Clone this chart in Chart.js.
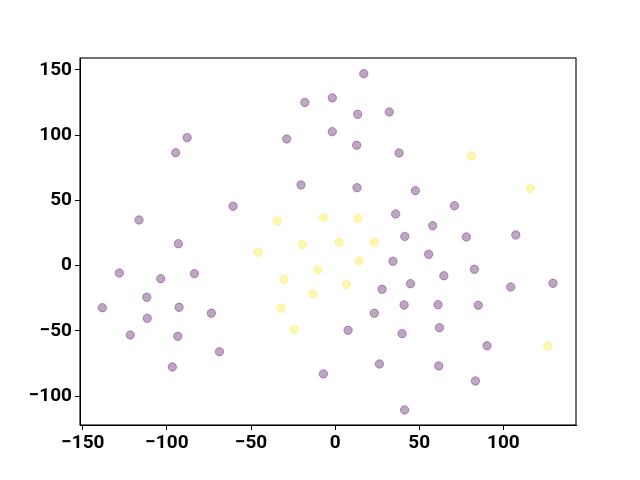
<!DOCTYPE html>
<html lang="en">
<head>
    <meta charset="UTF-8">
    <title>scatter</title>
    <script src="https://cdn.jsdelivr.net/npm/chart.js"></script>
    <style>
        body { margin: 0; background: #fff; }
        #wrap { width: 640px; height: 480px; }
    </style>
</head>
<body>
    <div id="wrap"><canvas id="myChart" width="640" height="480"></canvas></div>
    <script>
        // class 0 (purple) points
        const purpleX = [17, -18, -1.7, 13.4, 32.2, -88, -28.8, -1.7, 12.8, 38, -94.8, -20.3, 13, 47.7, -60.7, 70.9,
            -116.6, 36, 58, -93.2, 41.4, 78, 107.4, 34.4, 55.6, -128.3, -103.7, -83.7, 82.8, 64.6, 27.9, 44.8,
            104.4, 129.5, -112, -138.4, -92.8, -111.7, -73.6, 23.3, 41, 61.2, 85.1, -121.8, -93.6, 7.7,
            39.8, 62, -68.8, 90.3, -96.8, -7, 26.3, 61.6, 83.4, 41.3];
        const purpleY = [147, 125, 128.4, 115.9, 117.7, 98, 97, 102.6, 92.2, 86.3, 86.5, 61.8, 59.7, 57.4, 45.5, 45.9,
            35, 39.6, 30.6, 16.8, 22.4, 22, 23.5, 3.4, 8.7, -5.6, -10, -6.1, -2.8, -7.7, -18.1, -13.8,
            -16.3, -13.5, -24.2, -32.2, -31.9, -40.3, -36.4, -36.4, -30.1, -29.9, -30.3, -53.1, -54.1, -49.5,
            -52.1, -47.5, -65.9, -61.3, -77.6, -82.9, -75.3, -76.8, -88.3, -110.5];
        // class 1 (yellow) points
        const yellowX = [-34.5, -7, 13.6, 81, 116.1, -45.8, -19.7, 2.3, 23.3, 14.2, -10.3, -30.4, -13.1, 6.7, -32.2, -24.4, 126.4];
        const yellowY = [34.2, 36.8, 36.3, 84, 59, 10.3, 16.1, 17.9, 17.9, 3.6, -3.1, -10.4, -21.7, -14.5, -32.4, -49, -61.5];
        const xTicks = [-150, -100, -50, 0, 50, 100];
        const yTicks = [-100, -50, 0, 50, 100, 150];

        const toPts = (xs, ys) => xs.map((x, i) => ({ x: x, y: ys[i] }));
        const purple = 'rgba(68, 1, 84, 0.35)';
        const yellow = 'rgba(253, 231, 37, 0.35)';

        const frame = {
            id: 'frame',
            afterDraw(chart) {
                const a = chart.chartArea, ctx = chart.ctx;
                ctx.save();
                ctx.strokeStyle = '#000';
                ctx.lineWidth = 1.1;
                ctx.strokeRect(a.left, a.top, a.right - a.left, a.bottom - a.top);
                ctx.restore();
            }
        };

        const tickFont = { family: 'Roboto', weight: 'bold', size: 19 };
        const minus = v => String(v).replace('-', '\u2212');

        new Chart('myChart', {
            type: 'scatter',
            data: {
                datasets: [{
                    data: toPts(purpleX, purpleY),
                    backgroundColor: purple,
                    borderColor: purple,
                    borderWidth: 1,
                    pointRadius: 4.2
                }, {
                    data: toPts(yellowX, yellowY),
                    backgroundColor: yellow,
                    borderColor: yellow,
                    borderWidth: 1,
                    pointRadius: 4.2
                }]
            },
            options: {
                responsive: false,
                animation: false,
                layout: { padding: { left: 0, right: 64, top: 58, bottom: 0 } },
                plugins: { legend: { display: false }, tooltip: { enabled: false } },
                scales: {
                    x: {
                        min: -151.7, max: 143.2,
                        afterBuildTicks: s => { s.ticks = xTicks.map(v => ({ value: v })); },
                        afterFit: s => { s.height = 55; },
                        grid: { drawOnChartArea: false, color: '#000', tickLength: 5 },
                        border: { color: '#000' },
                        ticks: { color: '#000', font: tickFont, padding: 2, maxRotation: 0, callback: minus }
                    },
                    y: {
                        min: -122, max: 159,
                        afterBuildTicks: s => { s.ticks = yTicks.map(v => ({ value: v })); },
                        afterFit: s => { s.width = 80; },
                        grid: { drawOnChartArea: false, color: '#000', tickLength: 5 },
                        border: { color: '#000' },
                        ticks: { color: '#000', font: tickFont, padding: 3, callback: minus }
                    }
                }
            },
            plugins: [frame]
        });
    </script>
</body>
</html>
